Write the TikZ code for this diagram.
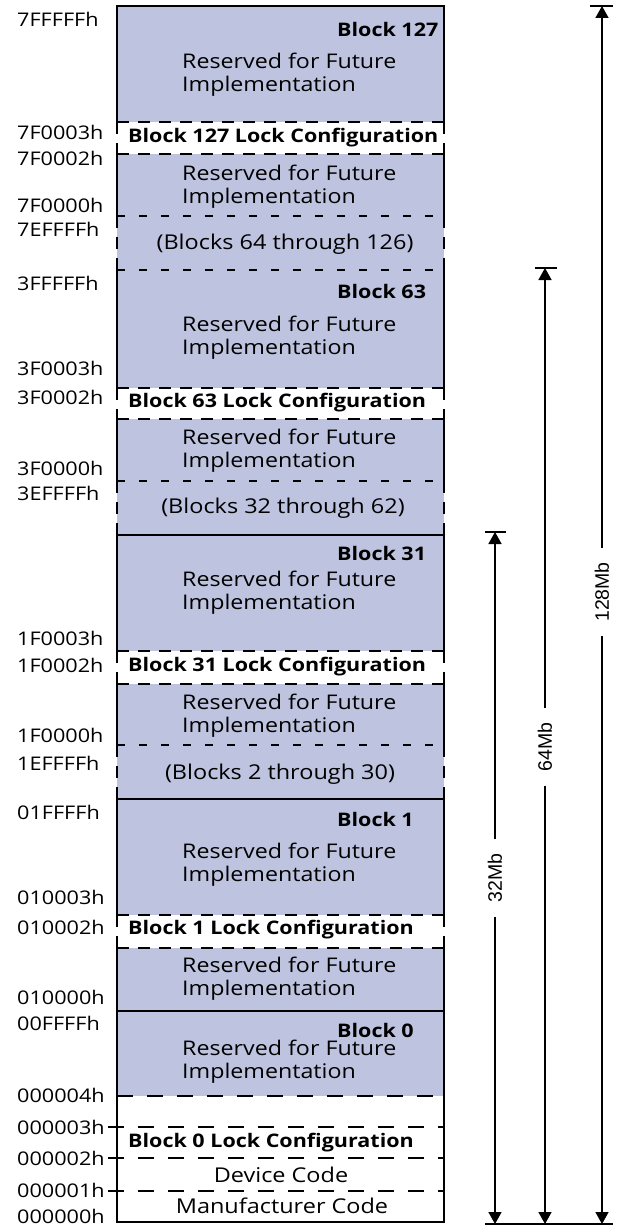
\documentclass[tikz,border=0pt]{standalone}
\usepackage{fontspec}
\setmainfont{Open Sans}[FakeStretch=1.15]
\newfontfamily\arialf{Liberation Sans}
\usetikzlibrary{arrows.meta}
\definecolor{blk}{RGB}{190,196,223}
\begin{document}
\begin{tikzpicture}[x=1pt,y=-1pt,
  border/.style={line width=2pt, line cap=rect},
  dashA/.style={line width=2pt, dash pattern=on 12pt off 9pt},
  dashB/.style={line width=2pt, dash pattern=on 8pt off 14pt},
  dashC/.style={line width=2pt, dash pattern=on 16pt off 14pt},
  addr/.style={anchor=west, inner sep=0pt, font=\fontsize{18.8}{20}\selectfont},
  rsv/.style={anchor=west, inner sep=0pt, align=left, font=\fontsize{20.2}{23}\selectfont},
  ttl/.style={anchor=west, inner sep=0pt, font=\fontsize{18.7}{20}\selectfont\bfseries},
  ctr/.style={inner sep=0pt, font=\fontsize{20.4}{22}\selectfont},
  size/.style={inner xsep=14pt, inner ysep=2pt, rotate=90, font=\arialf\fontsize{19.5}{20}\selectfont},
  dim/.style={line width=1.6pt, -{Triangle[width=13pt,length=12pt]}},
  bar/.style={line width=2pt}]
\useasboundingbox (0,0) rectangle (616,1228);
% fills
\fill[blk] (117,6) rectangle (444,1096);
\foreach \a/\b in {122/154,388/419,651/684,915/948}
  \fill[white] (116,\a) rectangle (445,\b);
\fill[white] (117,1096) rectangle (444,1222);
% vertical borders
\foreach \a/\b in {6/122,154/216,270/388,419/481,535/651,684/745,799/915,948/1222}
  {\draw[border] (117,\a) -- (117,\b); \draw[border] (444,\a) -- (444,\b);}
\foreach \a/\b in {122/154,216/270,388/419,481/535,651/684,745/799,915/948}
  {\draw[dashA] (117,\a) -- (117,\b); \draw[dashA] (444,\a) -- (444,\b);}
% horizontal lines
\foreach \y in {6,535,799,1011,1222} \draw[border] (117,\y) -- (444,\y);
\foreach \y in {122,154,388,419,651,684,915,948} \draw[dashA] (117,\y) -- (444,\y);
\foreach \y in {216,270,481,745} \draw[dashB] (117,\y) -- (444,\y);
\draw[dashC] (117,1096) -- (444,1096);
\foreach \y in {1127,1158,1191} \draw[dashC] (108,\y) -- (444,\y);
% address labels
\foreach \t/\y [count=\i] in {7FFFFFh/19,7F0003h/132,7F0002h/158,7F0000h/205,7EFFFFh/229,
  3FFFFFh/283,3F0003h/368,3F0002h/397,3F0000h/468,3EFFFFh/493,
  1F0003h/638,1F0002h/665,1F0000h/735,1EFFFFh/763,
  01FFFFh/812,010003h/897,010002h/927,010000h/997,00FFFFh/1023,
  000004h/1095,000003h/1127,000002h/1158,000001h/1190,000000h/1216}
  \node[addr] (ad\i) at (17,\y) {\t};
% block titles
\node[ttl] (b127) at (337,29) {Block 127};
\node[ttl] (b63) at (337,291) {Block 63};
\node[ttl] (b31) at (337,553) {Block 31};
\node[ttl] (b1) at (337,819) {Block 1};
\node[ttl] (b0) at (337,1030) {Block 0};
% reserved texts
\foreach \y [count=\i] in {75,187,338,451,593,716,865,979,1062}
  \node[rsv] (r\i) at (182,\y) {Reserved for Future\\Implementation};
% lock configurations
\node[ttl] (l127) at (128,138) {Block 127 Lock Configuration};
\node[ttl] (l63) at (128,403) {Block 63 Lock Configuration};
\node[ttl] (l31) at (128,667) {Block 31 Lock Configuration};
\node[ttl] (l1) at (128,930) {Block 1 Lock Configuration};
\node[ttl] (l0) at (128,1143) {Block 0 Lock Configuration};
% ranges
\node[ctr] (g1) at (285,244) {(Blocks 64 through 126)};
\node[ctr] (g2) at (283,508) {(Blocks 32 through 62)};
\node[ctr] (g3) at (280,774) {(Blocks 2 through 30)};
\node[ctr] (dc) at (281,1175) {Device Code};
\node[ctr] (mc) at (282,1206) {Manufacturer Code};
% dimension arrows
\coordinate (t128) at (602,6);
\coordinate (t64) at (545,268);
\coordinate (t32) at (495,532);
\coordinate (e128) at (602,1224);
\coordinate (e64) at (545,1224);
\coordinate (e32) at (495,1224);
\node[size] (s128) at (602,592) {128Mb};
\node[size] (s64) at (545,747) {64Mb};
\node[size] (s32) at (495,878) {32Mb};
\draw[dim] (s128) -- (t128);
\draw[dim] (s128) -- (e128);
\draw[dim] (s64) -- (t64);
\draw[dim] (s64) -- (e64);
\draw[dim] (s32) -- (t32);
\draw[dim] (s32) -- (e32);
\draw[bar] (590,6) -- (613,6);
\draw[bar] (535,268) -- (557,268);
\draw[bar] (485,532) -- (506,532);
\draw[bar] (485,1224) -- (613,1224);
\end{tikzpicture}
\end{document}
